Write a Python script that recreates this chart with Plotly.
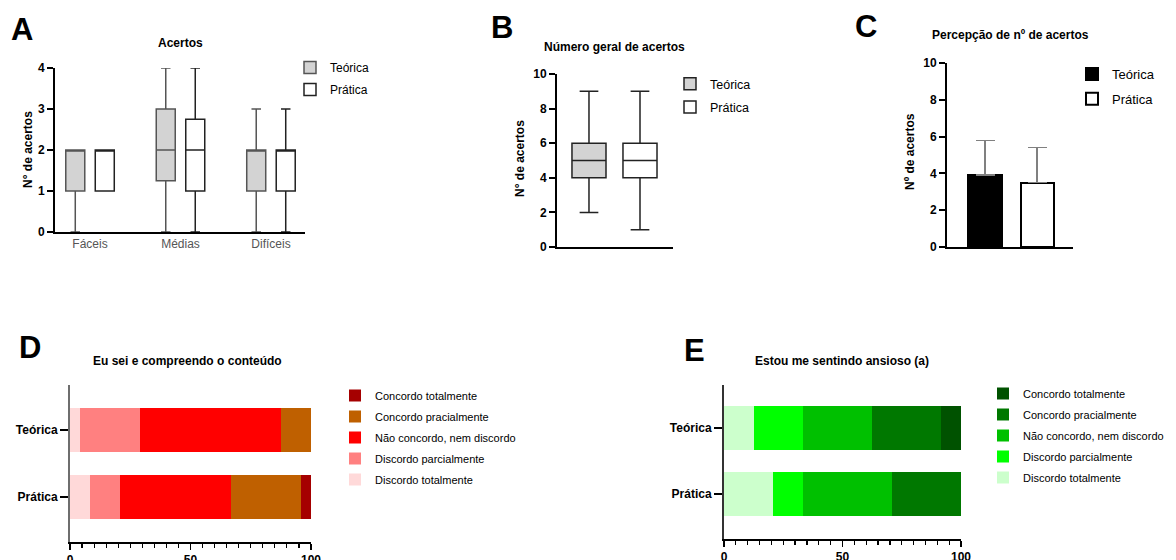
import plotly.graph_objects as go

W, H = 1176, 560
FONT = "Liberation Sans, Arial, sans-serif"

# ---------------- data ----------------
groups = ["Teórica", "Prática"]

cat_A = ["Fáceis", "Médias", "Difíceis"]
teo_A_min = [0, 0, 0]
teo_A_q1 = [1, 1.25, 1]
teo_A_med = [2, 2, 2]
teo_A_q3 = [2, 3, 2]
teo_A_max = [2, 4, 3]
pra_A_min = [1, 0, 0]
pra_A_q1 = [1, 1, 1]
pra_A_med = [2, 2, 2]
pra_A_q3 = [2, 2.75, 2]
pra_A_max = [2, 4, 3]

teo_B = dict(lo=2, q1=4, med=5, q3=6, hi=9)
pra_B = dict(lo=1, q1=4, med=5, q3=6, hi=9)

C_mean = [3.9, 3.5]
C_sd = [1.9, 1.9]

levels = ["Discordo totalmente", "Discordo parcialmente", "Não concordo, nem discordo",
          "Concordo pracialmente", "Concordo totalmente"]
D_vals = [[4.2, 8.3], [25.0, 12.5], [58.3, 45.8], [12.5, 29.2], [0.0, 4.2]]
E_vals = [[12.5, 20.8], [20.8, 12.5], [29.2, 37.5], [29.2, 29.2], [8.3, 0.0]]
D_colors = ["#ffd9d9", "#ff8080", "#ff0000", "#bf6000", "#a50000"]
E_colors = ["#ccffcc", "#00ff00", "#00c000", "#007800", "#005200"]


def fx(px):
    return px / W


def fy(py):
    return 1 - py / H


fig = go.Figure()

# ---------------- A: boxes ----------------
off = 0.163
for name, lo, q1, med, q3, hi, fill, lc, sgn in [
    ("Teórica", teo_A_min, teo_A_q1, teo_A_med, teo_A_q3, teo_A_max, "#d3d3d3", "#555555", -1),
    ("Prática", pra_A_min, pra_A_q1, pra_A_med, pra_A_q3, pra_A_max, "#ffffff", "#222222", 1),
]:
    fig.add_trace(go.Box(
        x=[i + sgn * off for i in range(len(cat_A))],
        q1=q1, median=med, q3=q3, lowerfence=lo, upperfence=hi,
        name=name, fillcolor=fill, line=dict(color=lc, width=1.5),
        width=0.21, whiskerwidth=0.5, boxpoints=False,
        xaxis="x", yaxis="y", legend="legend", legendgroup="a" + name,
    ))

# ---------------- B: boxes ----------------
for i, (name, d, fill, lc) in enumerate([("Teórica", teo_B, "#d3d3d3", "#222222"),
                                          ("Prática", pra_B, "#ffffff", "#222222")]):
    fig.add_trace(go.Box(
        x=[i], q1=[d["q1"]], median=[d["med"]], q3=[d["q3"]],
        lowerfence=[d["lo"]], upperfence=[d["hi"]],
        name=name, fillcolor=fill, line=dict(color=lc, width=1.5),
        width=0.667, whiskerwidth=0.55, boxpoints=False,
        xaxis="x2", yaxis="y2", legend="legend2", legendgroup="b" + name,
    ))

# ---------------- C: bars ----------------
for i, (name, fill) in enumerate([("Teórica", "#000000"), ("Prática", "#ffffff")]):
    fig.add_trace(go.Bar(
        x=[i], y=[C_mean[i]], name=name, width=0.635,
        marker=dict(color=fill, line=dict(color="#000000", width=2)),
        error_y=dict(type="data", array=[C_sd[i]], arrayminus=[0], symmetric=False,
                     color="#808080", thickness=1.5, width=9.5),
        xaxis="x3", yaxis="y3", legend="legend3", legendgroup="c" + name,
    ))

# ---------------- D & E: stacked bars ----------------
for vals, cols, ax, lg in [(D_vals, D_colors, "4", "legend4"), (E_vals, E_colors, "5", "legend5")]:
    for k, (lev, v, c) in enumerate(zip(levels, vals, cols)):
        fig.add_trace(go.Bar(
            y=groups, x=v, orientation="h", name=lev, width=0.66,
            marker=dict(color=c, line=dict(width=0)),
            xaxis="x" + ax, yaxis="y" + ax, legend=lg, legendgroup=ax + lev,
            legendrank=1000 - k,
        ))

bold12 = dict(family=FONT, size=12, color="#000000", weight="bold")
common_y = dict(showline=True, linecolor="#000000", linewidth=2, ticks="outside",
                ticklen=6, tickwidth=2, tickcolor="#000000", showgrid=False,
                zeroline=False, tickfont=bold12, automargin=False)
common_x = dict(showline=True, linecolor="#000000", linewidth=2, showgrid=False,
                zeroline=False, automargin=False)

layout = dict(
    width=W, height=H, margin=dict(l=0, r=0, t=0, b=0, autoexpand=False),
    paper_bgcolor="white", plot_bgcolor="white",
    font=dict(family=FONT, size=12, color="#000000"),
    barmode="stack", boxmode="overlay", showlegend=True, hovermode=False,
    # A
    xaxis=dict(common_x, anchor="y", domain=[fx(55), fx(305)], range=[-0.387, 2.376],
               tickvals=[0, 1, 2], ticktext=cat_A, ticks="",
               tickfont=dict(family=FONT, size=12, color="#555555")),
    yaxis=dict(common_y, anchor="x", domain=[fy(232), fy(68)], range=[0, 4],
               tickvals=[0, 1, 2, 3, 4]),
    # B
    xaxis2=dict(common_x, anchor="y2", domain=[fx(557), fx(673)], range=[-0.627, 1.647],
                showticklabels=False, ticks=""),
    yaxis2=dict(common_y, anchor="x2", domain=[fy(247), fy(74)], range=[0, 10],
                tickvals=[0, 2, 4, 6, 8, 10]),
    # C
    xaxis3=dict(common_x, anchor="y3", domain=[fx(947), fx(1073)], range=[-0.73, 1.69],
                showticklabels=False, ticks=""),
    yaxis3=dict(common_y, anchor="x3", domain=[fy(247), fy(63)], range=[0, 10],
                tickvals=[0, 2, 4, 6, 8, 10]),
    # D
    xaxis4=dict(common_x, anchor="y4", domain=[fx(70), fx(311)], range=[0, 100],
                tickvals=[0, 50, 100],
                ticks="outside", ticklen=6, tickwidth=1.5, tickcolor="#000000",
                tickfont=bold12,
                minor=dict(dtick=5, ticks="outside", ticklen=4, tickwidth=1.2, tickcolor="#000000")),
    yaxis4=dict(common_y, anchor="x4", domain=[fy(542), fy(385)], type="category",
                categoryarray=groups, range=[1.672, -0.672], linecolor="#6e6e6e", ticklen=8),
    # E
    xaxis5=dict(common_x, anchor="y5", domain=[fx(724), fx(961)], range=[0, 100],
                tickvals=[0, 50, 100],
                ticks="outside", ticklen=6, tickwidth=1.5, tickcolor="#000000",
                tickfont=bold12,
                minor=dict(dtick=5, ticks="outside", ticklen=4, tickwidth=1.2, tickcolor="#000000")),
    yaxis5=dict(common_y, anchor="x5", domain=[fy(539), fy(385)], type="category",
                categoryarray=groups, range=[1.68, -0.65], linecolor="#333333", ticklen=8),
)


def leg(xpx, ypx, size, gap):
    return dict(x=fx(xpx), y=fy(ypx), xanchor="left", yanchor="top",
                bgcolor="rgba(0,0,0,0)", borderwidth=0,
                font=dict(family=FONT, size=size, color="#000000"),
                traceorder="grouped", tracegroupgap=gap)


layout["legend"] = leg(290, 53, 12, 3)
layout["legend2"] = leg(670, 69, 12.5, 4)
layout["legend3"] = leg(1072, 59, 13, 5)
layout["legend4"] = leg(335, 381, 11, 2)
layout["legend5"] = leg(983, 379, 11, 2)

annotations = []
for letter, x, y in [("A", 22, 29), ("B", 502, 27), ("C", 866, 26), ("D", 30, 347), ("E", 694, 350)]:
    annotations.append(dict(text=letter, x=fx(x), y=fy(y), xref="paper", yref="paper",
                            showarrow=False, xanchor="center", yanchor="middle",
                            font=dict(family=FONT, size=31, color="#000000", weight="bold")))
for t, x, y in [("Acertos", 180, 43), ("Número geral de acertos", 614, 47),
                ("Percepção de nº de acertos", 1010, 35),
                ("Eu sei e compreendo o conteúdo", 187, 361),
                ("Estou me sentindo ansioso (a)", 842, 361)]:
    annotations.append(dict(text=t, x=fx(x), y=fy(y), xref="paper", yref="paper",
                            showarrow=False, xanchor="center", yanchor="middle",
                            font=dict(family=FONT, size=12, color="#000000", weight="bold")))
for t, x, y in [("N° de acertos", 28, 150), ("N° de acertos", 520, 159), ("Nº de acertos", 910, 152)]:
    annotations.append(dict(text=t, x=fx(x), y=fy(y), xref="paper", yref="paper",
                            showarrow=False, xanchor="center", yanchor="middle", textangle=-90,
                            font=dict(family=FONT, size=12, color="#000000", weight="bold")))
layout["annotations"] = annotations

fig.update_layout(layout)
fig.write_html(
    "out.html",
    config={"displayModeBar": False, "staticPlot": True},
    post_script="document.body.style.margin='0px';document.body.style.padding='0px';",
)
